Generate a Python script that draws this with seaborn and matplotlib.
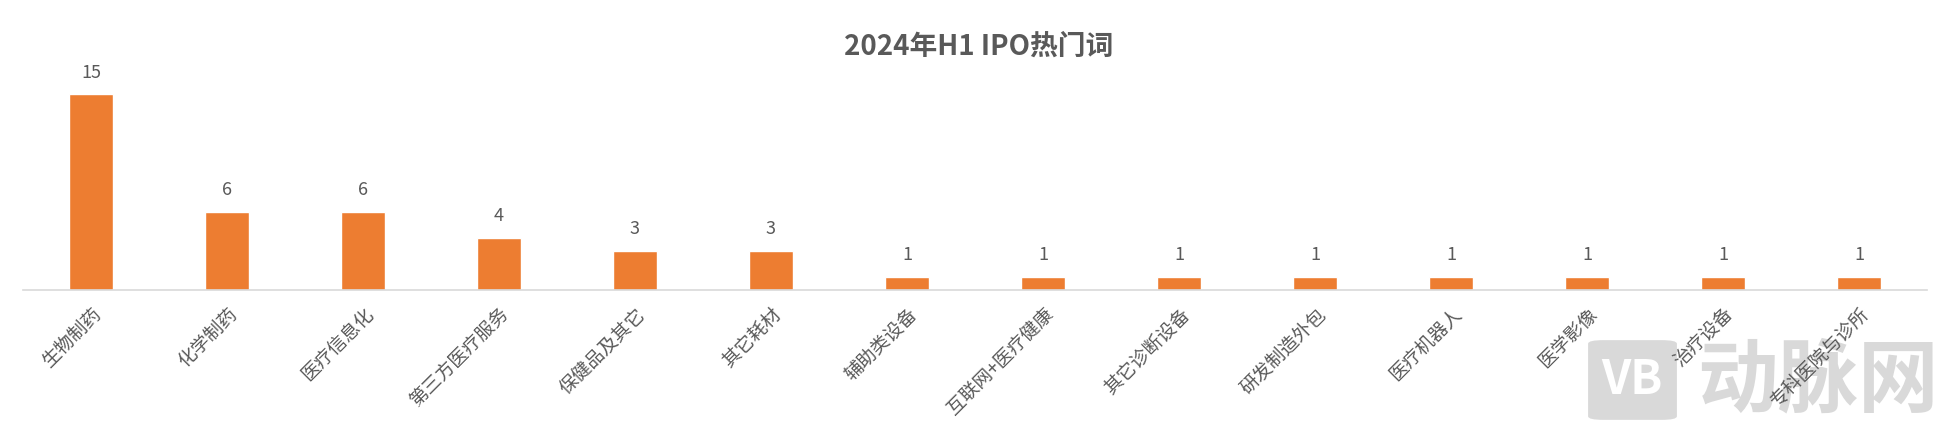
import matplotlib
matplotlib.use("Agg")
import matplotlib.pyplot as plt
from matplotlib.patches import FancyBboxPatch
import seaborn as sns

# data
categories = ["生物制药", "化学制药", "医疗信息化", "第三方医疗服务", "保健品及其它",
              "其它耗材", "辅助类设备", "互联网+医疗健康", "其它诊断设备", "研发制造外包",
              "医疗机器人", "医学影像", "治疗设备", "专科医院与诊所"]
counts = [15, 6, 6, 4, 3, 3, 1, 1, 1, 1, 1, 1, 1, 1]

title = "2024年H1 IPO热门词"
bar_color = "#ED7D31"
text_color = "#595959"
axis_color = "#D9D9D9"

sns.set_theme(style="white")
plt.rcParams["font.family"] = ["Noto Sans CJK SC", "DejaVu Sans"]

fig = plt.figure(figsize=(19.49, 4.34), dpi=100)
ax = fig.add_axes([23 / 1949, 0.3318, (1927 - 23) / 1949, 0.813 - 0.3318])
ax.patch.set_visible(False)

sns.barplot(x=categories, y=counts, color=bar_color, saturation=1,
            width=0.32, ax=ax)

ax.set_ylim(0, 16)
ax.set_xlim(-0.5, len(categories) - 0.5)

# value labels
for container in ax.containers:
    ax.bar_label(container, fmt="%d", padding=9, fontsize=13, color=text_color)

ax.set_xlabel("")
ax.set_ylabel("")
ax.set_yticks([])
for side in ["top", "right", "left"]:
    ax.spines[side].set_visible(False)
ax.spines["bottom"].set_color(axis_color)
ax.spines["bottom"].set_linewidth(1.2)
ax.tick_params(axis="x", length=0, pad=10)
plt.setp(ax.get_xticklabels(), rotation=45, ha="right", va="top",
         rotation_mode="anchor", fontsize=13.5, color=text_color)

fig.text(0.502, 0.892, title, ha="center", va="center", fontsize=20,
         fontweight="bold", color=text_color)

# watermark, drawn behind the axes
box = FancyBboxPatch((1592 / 1949, 1 - 419 / 434), 81 / 1949, 78 / 434,
                     boxstyle="round,pad=0.002,rounding_size=0.008",
                     transform=fig.transFigure, facecolor=axis_color,
                     edgecolor="none", zorder=-2)
fig.patches.append(box)
fig.text(1632 / 1949, 1 - 380 / 434, "VB", ha="center", va="center",
         fontsize=34, fontweight="bold", color="white", zorder=-1)
fig.text(1818 / 1949, 1 - 382 / 434, "动脉网", ha="center", va="center",
         fontsize=58, fontweight="bold", color=axis_color, zorder=-1)

fig.savefig("out.png", dpi=100, facecolor="white")
